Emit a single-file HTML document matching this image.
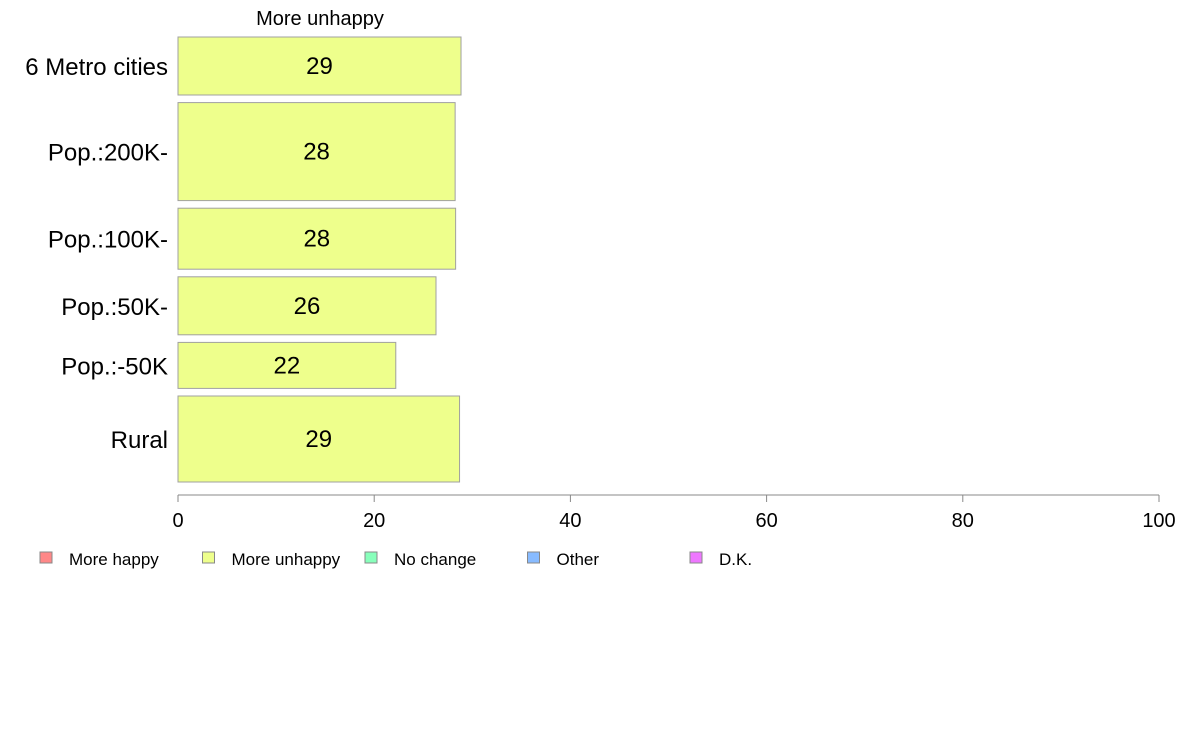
<!DOCTYPE html>
<html><head><meta charset="utf-8"><style>
body{margin:0;background:#fff;width:1188px;height:736px;overflow:hidden;font-family:"Liberation Sans",sans-serif;}
</style></head><body>
<svg id="chart" width="1188" height="736" xmlns="http://www.w3.org/2000/svg" font-family="Liberation Sans, sans-serif"></svg>
<script>
const categories=["6 Metro cities","Pop.:200K-","Pop.:100K-","Pop.:50K-","Pop.:-50K","Rural"];
const values=[28.85,28.25,28.3,26.3,22.2,28.7];
const labels=["29","28","28","26","22","29"];
const weights=[58,98,61,58,46,86];
const ticks=[0,20,40,60,80,100];
const legendNames=["More happy","More unhappy","No change","Other","D.K."];
const legendColors=["#ff8888","#eeff8c","#88ffbb","#88bbff","#ee77ff"];
const svg=document.getElementById('chart');
const NS="http://www.w3.org/2000/svg";
const x0=178,x1=1159,yTop=37,yBot=482,gap=7.6;
const xs=v=>x0+(x1-x0)*v/100;
function mk(t,a,txt){const e=document.createElementNS(NS,t);for(const k in a)e.setAttribute(k,a[k]);if(txt!==undefined)e.textContent=txt;svg.appendChild(e);return e;}
const t=mk('text',{x:320,y:25,'text-anchor':'middle','font-size':20,fill:'#000'},'More unhappy');


const tw=weights.reduce((a,b)=>a+b,0);
const scale=(yBot-yTop-gap*(weights.length-1))/tw;
let y=yTop;
categories.forEach((c,i)=>{
  const h=weights[i]*scale;
  const r=mk('rect',{x:x0,y:y,width:xs(values[i])-x0,height:h,fill:'#eeff8c',stroke:'#a0a0a0','stroke-width':1});
  
  
  const v=mk('text',{x:(x0+xs(values[i]))/2,y:y+h/2+8,'text-anchor':'middle','font-size':24,fill:'#000'},labels[i]);
  
  
  const l=mk('text',{x:168,y:y+h/2+9,'text-anchor':'end','font-size':24,fill:'#000'},c);
  
  
  y+=h+gap;
});
const ax=mk('line',{x1:x0,x2:x1,y1:495,y2:495,stroke:'#888','stroke-width':1});


ticks.forEach(tk=>{
  const ln=mk('line',{x1:xs(tk),x2:xs(tk),y1:495,y2:502,stroke:'#888','stroke-width':1});
  
  
  const tl=mk('text',{x:xs(tk),y:527,'text-anchor':'middle','font-size':20,fill:'#000'},tk);
  
  
});
legendNames.forEach((n,i)=>{
  const bx=40+i*162.5;
  const b=mk('rect',{x:bx,y:552,width:12,height:11,fill:legendColors[i],stroke:'#888','stroke-width':1});
  
  
  const lt=mk('text',{x:bx+29,y:565,'font-size':17,fill:'#000'},n);
  
  
});
</script>
</body></html>
